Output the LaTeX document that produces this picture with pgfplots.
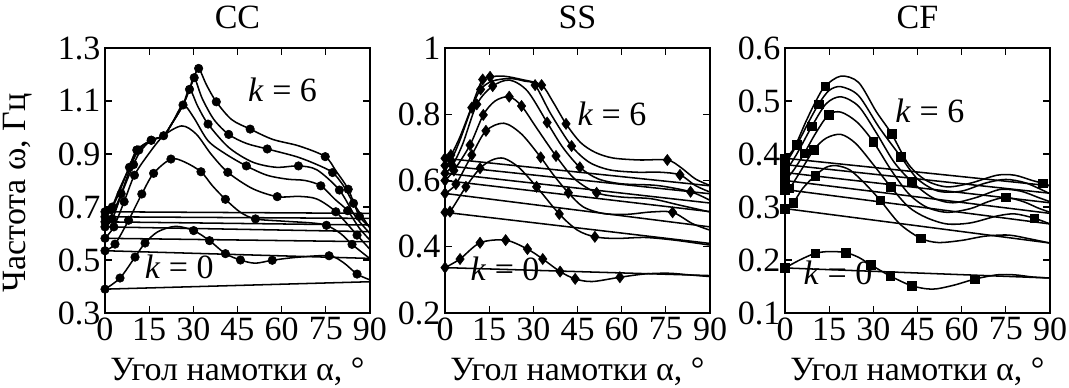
\documentclass[border=0pt]{standalone}
\usepackage{fontspec}
\setmainfont{Liberation Serif}
\usepackage{pgfplots}
\pgfplotsset{compat=1.18}
\newcommand\crv[3]{\addplot[black,smooth,tension=0.5,line width=1.15pt,no markers] coordinates {#2};
  \addplot[black,only marks,mark=#1,mark size=3.2pt] coordinates {#3};}
\newcommand\crvd[2]{\addplot[black,smooth,tension=0.5,line width=1.15pt,no markers] coordinates {#1};
  \addplot[black,only marks,mark=diamond*,mark size=4.2pt] coordinates {#2};}
\newcommand\lin[2]{\addplot[black,line width=1.15pt,no markers] coordinates {(0,#1) (90,#2)};}
\newcommand\bigf{\fontsize{25.5}{30}\selectfont}
\pgfplotsset{
 mystyle/.style={
   scale only axis, width=198.75pt, height=198.75pt,
   xmin=0,xmax=90, xtick={0,15,30,45,60,75,90},
   tick align=inside, major tick length=5pt,
   clip=false,
   axis line style={line width=0.9pt},
   every tick/.style={black, line width=0.9pt},
   tick label style={font=\bigf},
   /pgf/number format/assume math mode=true,
   yticklabel style={/pgf/number format/fixed,/pgf/number format/precision=1},
   xlabel={Угол намотки α, °},
   xlabel style={at={(axis description cs:0.5,-0.253)}, anchor=base, font=\bigf},
   title style={at={(axis description cs:0.5,1.042)}, anchor=base, font=\bigf},
 },
}
\begin{document}
\begin{tikzpicture}
\useasboundingbox (0,0) rectangle (801.75pt,290.25pt);
% ---------------- CC ----------------
\begin{axis}[mystyle, at={(78.75pt,55.5pt)}, anchor=south west,
  ymin=0.3, ymax=1.3, ytick={0.3,0.5,0.7,0.9,1.1,1.3}, title={CC},
  ylabel={Частота ω, Гц},
  ylabel style={at={(axis description cs:-0.33,0.453)}, anchor=center, font=\bigf}]
\lin{0.39}{0.418}\lin{0.535}{0.506}\lin{0.582}{0.569}\lin{0.625}{0.607}\lin{0.644}{0.632}\lin{0.663}{0.657}\lin{0.682}{0.676}
\crv{*}{(0,0.39) (5.1,0.432) (10.2,0.511) (13.6,0.564) (18,0.607) (24,0.627) (30.1,0.611) (35.5,0.573) (40.9,0.524) (46,0.5) (51,0.488) (56.8,0.499) (65,0.51) (76.1,0.516) (81,0.49) (85.6,0.447) (90,0.425)}
{(0,0.39) (5.1,0.432) (10.2,0.511) (13.6,0.564) (30.1,0.611) (35.5,0.573) (40.9,0.524) (46,0.5) (56.8,0.499) (76.1,0.516) (85.6,0.447)}
\crv{*}{(0,0.535) (3.4,0.56) (8,0.65) (12.5,0.749) (16.5,0.827) (22.4,0.881) (27,0.87) (32.6,0.833) (36.5,0.78) (40.9,0.729) (46,0.68) (51.1,0.655) (60,0.647) (70,0.64) (75.2,0.631) (80,0.6) (83.9,0.559) (90,0.505)}
{(0,0.535) (3.4,0.56) (8,0.65) (12.5,0.749) (16.5,0.827) (22.4,0.881) (32.6,0.833) (40.9,0.729) (51.1,0.655) (75.2,0.631) (83.9,0.559)}
\crv{*}{(0,0.582) (3,0.625) (6.5,0.72) (10,0.82) (14.8,0.9) (19.9,0.969) (26.1,1.006) (31,0.975) (36,0.9) (41.7,0.831) (50,0.77) (58.5,0.739) (66,0.74) (72,0.73) (78.4,0.682) (85.6,0.594) (90,0.54)}
{(0,0.582) (3,0.625) (6.5,0.72) (10,0.82) (19.9,0.969) (41.7,0.831) (58.5,0.739) (78.4,0.682) (85.6,0.594)}
\crv{*}{(0,0.625) (2.5,0.655) (6,0.76) (9.7,0.86) (12,0.91) (15.7,0.952) (19.9,0.969) (23,1.02) (26.5,1.085) (30,1.04) (35,0.95) (41,0.9) (48,0.855) (55,0.82) (62,0.805) (68,0.8) (73.3,0.78) (78,0.73) (82.4,0.686) (86.4,0.62) (90,0.575)}
{(0,0.625) (2.5,0.655) (9.7,0.86) (26.5,1.085) (48,0.855) (73.3,0.78) (82.4,0.686)}
\crv{*}{(0,0.644) (2.5,0.675) (5.5,0.75) (9,0.86) (11.5,0.915) (15.7,0.952) (19.9,0.969) (23,1.02) (26.5,1.085) (28.7,1.144) (31.5,1.08) (35,1.013) (42,0.925) (50,0.87) (58,0.85) (65.7,0.855) (72,0.84) (79.6,0.764) (85,0.665) (90,0.6)}
{(0,0.644) (5.5,0.75) (11.5,0.915) (15.7,0.952) (28.7,1.144) (35,1.013) (65.7,0.855) (79.6,0.764)}
\crv{*}{(0,0.663) (2,0.69) (5,0.77) (8.3,0.85) (11,0.915) (15.7,0.952) (19.9,0.969) (23,1.02) (26.5,1.085) (28.7,1.144) (30.3,1.188) (33,1.11) (37,1.03) (42,0.974) (48,0.94) (55.1,0.919) (65,0.89) (72,0.86) (77.3,0.83) (81,0.78) (84.4,0.714) (90,0.62)}
{(0,0.663) (2,0.69) (8.3,0.85) (11,0.915) (30.3,1.188) (42,0.974) (55.1,0.919) (77.3,0.83) (84.4,0.714)}
\crv{*}{(0,0.682) (2.5,0.7) (5,0.76) (8,0.845) (10.8,0.915) (15.7,0.952) (19.9,0.969) (23,1.02) (26.5,1.085) (28.7,1.144) (30.3,1.188) (31.8,1.223) (34.5,1.16) (37.8,1.097) (43,1.03) (49.3,0.994) (57,0.955) (66,0.93) (74.8,0.89) (78.5,0.835) (82.6,0.767) (86.4,0.665) (90,0.625)}
{(0,0.682) (2.5,0.7) (10.8,0.915) (15.7,0.952) (31.8,1.223) (37.8,1.097) (49.3,0.994) (74.8,0.89) (82.6,0.767) (86.4,0.665)}
\node[font=\bigf] at (axis cs:60.3,1.141) {\textit{k} = 6};
\node[font=\bigf] at (axis cs:25.2,0.474) {\textit{k} = 0};
\end{axis}
% ---------------- SS ----------------
\begin{axis}[mystyle, at={(333.75pt,55.5pt)}, anchor=south west,
  ymin=0.2, ymax=1, ytick={0.2,0.4,0.6,0.8,1}, title={SS}]
\lin{0.337}{0.313}\lin{0.504}{0.41}\lin{0.561}{0.46}\lin{0.6}{0.506}\lin{0.622}{0.532}\lin{0.645}{0.56}\lin{0.667}{0.584}
\crvd{(0,0.337) (5.1,0.363) (11.9,0.412) (20.6,0.42) (28,0.393) (33.2,0.363) (39.1,0.325) (44.2,0.303) (50,0.295) (59.4,0.308) (68,0.318) (76,0.32) (83,0.315) (90,0.31)}
{(0,0.337) (5.1,0.363) (11.9,0.412) (20.6,0.42) (28,0.393) (33.2,0.363) (39.1,0.325) (44.2,0.303) (59.4,0.308)}
\crvd{(0,0.504) (1.7,0.506) (7.1,0.581) (11.9,0.637) (16,0.662) (20,0.667) (25,0.64) (31.1,0.581) (38.8,0.499) (45,0.45) (50.9,0.43) (58,0.425) (68,0.428) (78,0.42) (90,0.405)}
{(0,0.504) (1.7,0.506) (7.1,0.581) (11.9,0.637) (31.1,0.581) (38.8,0.499) (50.9,0.43)}
\crvd{(0,0.561) (3.7,0.589) (9.1,0.677) (13.9,0.75) (20,0.773) (26,0.74) (32.5,0.67) (37,0.615) (41.9,0.563) (47,0.52) (54,0.5) (62,0.498) (70,0.505) (77.3,0.504) (84,0.47) (90,0.45)}
{(0,0.561) (3.7,0.589) (9.1,0.677) (13.9,0.75) (32.5,0.67) (41.9,0.563) (77.3,0.504)}
\crvd{(0,0.6) (3,0.63) (8.5,0.707) (13,0.798) (17,0.84) (21.8,0.853) (26,0.825) (31,0.76) (37.7,0.674) (44,0.605) (51.5,0.563) (60,0.55) (70,0.545) (80,0.525) (90,0.505)}
{(0,0.6) (3,0.63) (8.5,0.707) (13,0.798) (21.8,0.853) (26,0.825) (37.7,0.674) (51.5,0.563)}
\crvd{(0,0.622) (2.5,0.645) (6,0.71) (10.8,0.83) (16.2,0.885) (22,0.903) (28,0.87) (34.7,0.775) (40,0.7) (45.8,0.64) (52,0.605) (60,0.59) (72,0.585) (83.4,0.566) (90,0.54)}
{(0,0.622) (2.5,0.645) (10.8,0.83) (16.2,0.885) (34.7,0.775) (45.8,0.64) (83.4,0.566)}
\crvd{(0,0.645) (2,0.66) (5,0.72) (9.1,0.82) (12.1,0.875) (16,0.9) (22,0.908) (27,0.9) (30.6,0.888) (36,0.8) (43,0.704) (49,0.655) (56,0.632) (65,0.625) (73,0.625) (79.8,0.617) (85,0.585) (90,0.565)}
{(0,0.645) (2,0.66) (9.1,0.82) (12.1,0.875) (30.6,0.888) (43,0.704) (79.8,0.617)}
\crvd{(0,0.667) (2,0.677) (5,0.73) (8.5,0.81) (11,0.87) (12.8,0.905) (15.3,0.913) (20,0.915) (26,0.905) (32.8,0.888) (36.5,0.84) (41.1,0.771) (46,0.715) (51,0.685) (57,0.668) (66,0.662) (75.5,0.662) (80,0.64) (85,0.605) (90,0.585)}
{(0,0.667) (2,0.677) (12.8,0.905) (15.3,0.913) (32.8,0.888) (41.1,0.771) (75.5,0.662)}
\node[font=\bigf] at (axis cs:56.7,0.8) {\textit{k} = 6};
\node[font=\bigf] at (axis cs:20.4,0.333) {\textit{k} = 0};
\end{axis}
% ---------------- CF ----------------
\begin{axis}[mystyle, at={(588.75pt,55.5pt)}, anchor=south west,
  ymin=0.1, ymax=0.6, ytick={0.1,0.2,0.3,0.4,0.5,0.6}, title={CF}]
\lin{0.185}{0.166}\lin{0.297}{0.232}\lin{0.333}{0.268}\lin{0.35}{0.288}\lin{0.365}{0.308}\lin{0.38}{0.326}\lin{0.392}{0.34}
\crv{square*}{(0,0.185) (5,0.2) (10.2,0.2125) (15,0.216) (20.6,0.214) (25,0.205) (29.1,0.191) (35.7,0.17) (43,0.1515) (50,0.145) (57,0.152) (64.5,0.164) (72,0.172) (78,0.172) (84,0.168) (90,0.166)}
{(0,0.185) (10.2,0.2125) (20.6,0.214) (29.1,0.191) (35.7,0.17) (43,0.1515) (64.5,0.164)}
\crv{square*}{(0,0.297) (2.8,0.308) (6,0.335) (10.2,0.359) (14,0.375) (17.5,0.378) (22,0.37) (27,0.345) (32.3,0.313) (39,0.268) (46.1,0.241) (52,0.233) (60,0.237) (68,0.245) (76,0.247) (83,0.24) (90,0.232)}
{(0,0.297) (2.8,0.308) (10.2,0.359) (32.3,0.313) (46.1,0.241)}
\crv{square*}{(0,0.333) (1.5,0.335) (5,0.365) (9.8,0.408) (14,0.43) (19,0.437) (24,0.42) (30,0.38) (35.9,0.338) (42,0.3) (48,0.28) (55,0.268) (63,0.27) (72,0.283) (78,0.287) (84.6,0.279) (90,0.268)}
{(0,0.333) (1.5,0.335) (9.8,0.408) (35.9,0.338) (84.6,0.279)}
\crv{square*}{(0,0.35) (3,0.37) (6.5,0.401) (10.5,0.44) (14.8,0.474) (19,0.479) (24.5,0.46) (30,0.423) (36,0.37) (42,0.325) (48,0.3) (55,0.29) (63,0.297) (69,0.31) (74.9,0.318) (81,0.31) (86,0.298) (90,0.29)}
{(0,0.35) (6.5,0.401) (14.8,0.474) (30,0.423) (74.9,0.318)}
\crv{square*}{(0,0.365) (4,0.4) (9.1,0.452) (14,0.495) (19,0.508) (25,0.49) (31,0.44) (37,0.385) (43,0.348) (50,0.318) (57,0.308) (65,0.318) (73,0.333) (80,0.33) (86,0.318) (90,0.31)}
{(0,0.365) (9.1,0.452) (43,0.348)}
\crv{square*}{(0,0.38) (4,0.417) (8,0.46) (11.4,0.494) (15,0.52) (19,0.527) (25,0.51) (32,0.45) (39.3,0.395) (45,0.353) (52,0.33) (60,0.33) (68,0.345) (75,0.352) (82,0.345) (90,0.325)}
{(0,0.38) (4,0.417) (11.4,0.494) (39.3,0.395)}
\crv{square*}{(0,0.392) (3,0.41) (7,0.46) (10.5,0.5) (13.6,0.528) (19,0.547) (25,0.535) (31,0.48) (36.2,0.438) (42,0.38) (48,0.35) (55,0.338) (63,0.345) (72,0.36) (78,0.36) (84,0.35) (87.5,0.345) (90,0.34)}
{(0,0.392) (13.6,0.528) (36.2,0.438) (87.5,0.345)}
\node[font=\bigf] at (axis cs:49.2,0.481) {\textit{k} = 6};
\node[font=\bigf] at (axis cs:18,0.175) {\textit{k} = 0};
\end{axis}
\end{tikzpicture}
\end{document}
